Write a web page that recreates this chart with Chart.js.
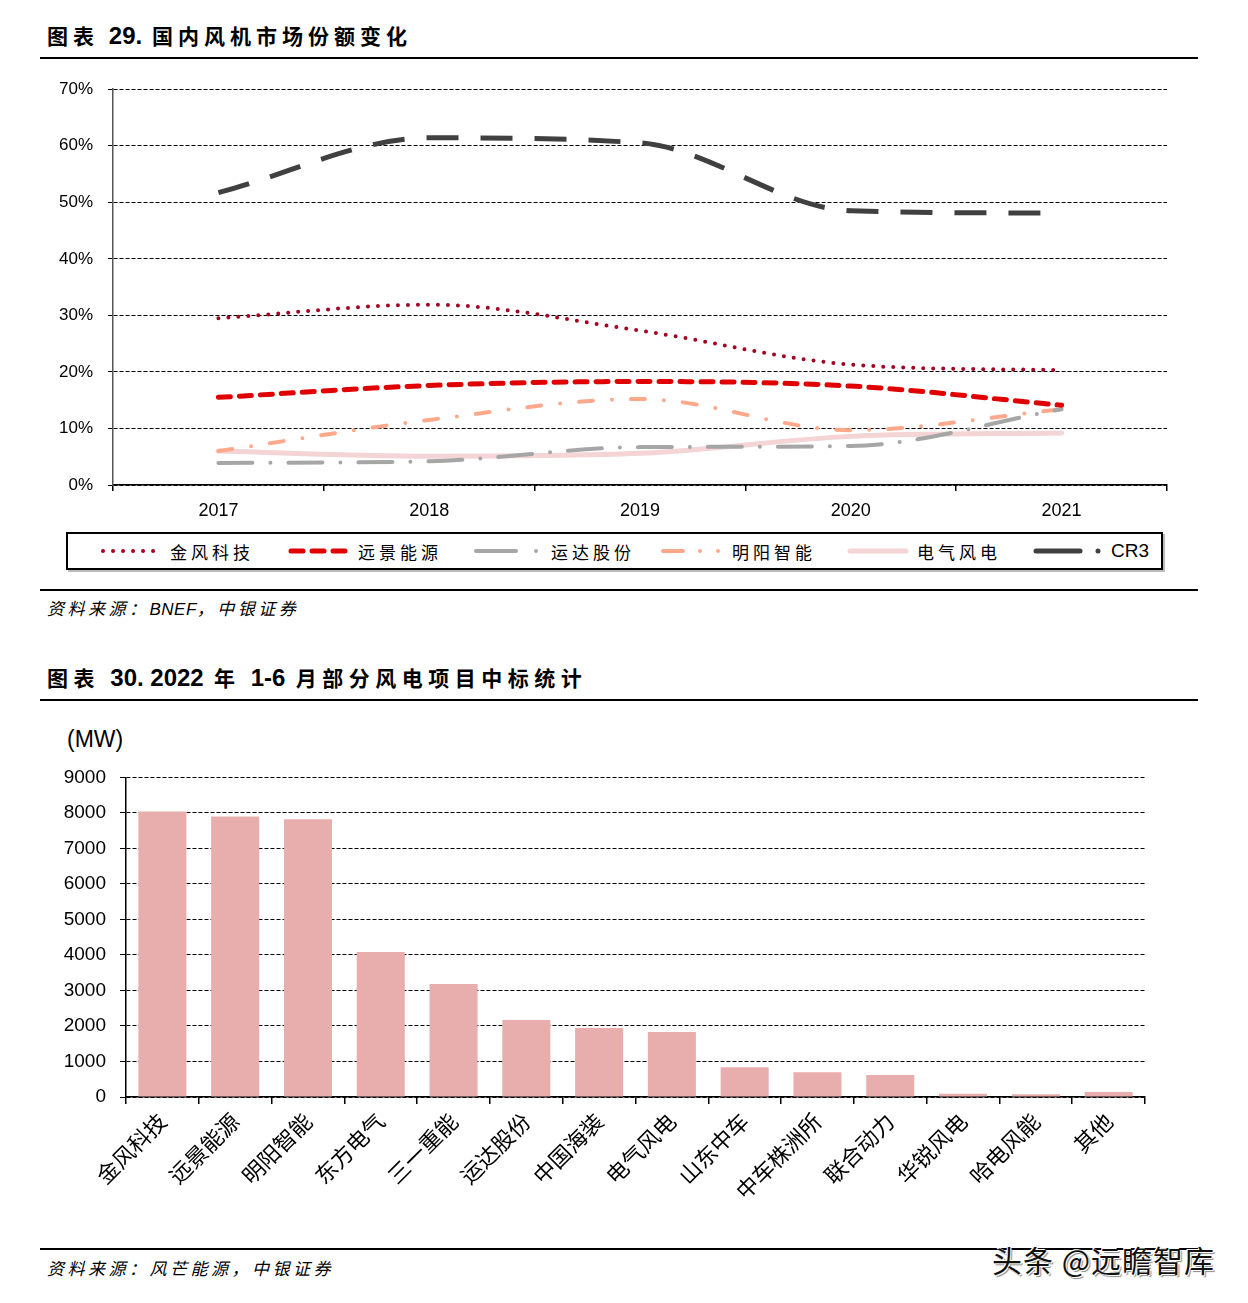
<!DOCTYPE html>
<html>
<head>
<meta charset="utf-8">
<script src="https://cdn.jsdelivr.net/npm/chart.js@4"></script>
<style>
  body { margin: 0; background: #fff; width: 1248px; height: 1303px; position: relative; font-family: "Liberation Sans", Arial, sans-serif; }
  .abs { position: absolute; }
  .title { left: 47px; font-family: "Noto Sans CJK SC", sans-serif; font-weight: bold; font-size: 21px; letter-spacing: 5px; line-height: 26px; color: #000; white-space: nowrap; }
  .title b { font-family: "Liberation Sans", Arial, sans-serif; font-size: 24px; letter-spacing: 0; }
  .rule { left: 40px; width: 1158px; height: 2px; background: #000; }
  .src { left: 47px; font-family: "Noto Sans CJK SC", sans-serif; font-style: italic; font-size: 17px; line-height: 22px; letter-spacing: 3.5px; }
  #legend { left: 66px; top: 532px; width: 1093px; height: 34px; border: 2px solid #000; box-shadow: 2px 2px 0 #bbb; }
  .li { position: absolute; top: 0; height: 34px; display: flex; align-items: center; font-family: "Noto Sans CJK SC", sans-serif; font-size: 17px; letter-spacing: 4px; }
  .li svg { margin-right: 8px; }
</style>
</head>
<body>
<div class="abs title" style="top:22px">图表 <b>29.</b> 国内风机市场份额变化</div>
<div class="abs rule" style="top:57px"></div>
<canvas id="c1" class="abs" style="left:40px;top:64px" width="1160" height="456"></canvas>
<div id="legend" class="abs"></div>
<div class="abs rule" style="top:589px"></div>
<div class="abs src" style="top:597px">资料来源：<i style="font-family:'Liberation Sans',Arial;letter-spacing:0.5px">BNEF</i>，中银证券</div>

<div class="abs title" style="top:664px;letter-spacing:5.5px">图表 <b>30. 2022</b> 年 <b>1-6</b> 月部分风电项目中标统计</div>
<div class="abs rule" style="top:699px"></div>
<div class="abs" style="left:67px;top:726px;font-size:23px;">(MW)</div>
<canvas id="c2" class="abs" style="left:40px;top:752px" width="1160" height="468"></canvas>
<div class="abs rule" style="top:1248px"></div>
<div class="abs src" style="top:1257px">资料来源：风芒能源，中银证券</div>
<div class="abs" style="left:992px;top:1237px;font-family:'Noto Sans CJK SC',sans-serif;font-size:30px;letter-spacing:1px;color:#111;text-shadow:1px 1px 0 #fff,-1px -1px 0 #fff,2px 2px 1px #888;white-space:nowrap;">头条 @远瞻智库</div>

<script>
// ---- 图表29 数据 ----
const years = ['2017', '2018', '2019', '2020', '2021'];
const goldwind = [29.5, 31.9, 27.3, 21.3, 20.3];
const envision = [15.5, 17.6, 18.3, 17.5, 14.1];
const windey = [3.9, 4.2, 6.7, 6.9, 13.4];
const mingyang = [6.0, 11.5, 15.2, 9.7, 13.4];
const shanghaiElec = [6.0, 5.1, 5.6, 8.6, 9.2];
const cr3 = [51.7, 61.4, 60.5, 48.5, 48.1];
const pctTicks = [0, 10, 20, 30, 40, 50, 60, 70];

// ---- 图表30 数据 ----
const companies = ['金风科技', '远景能源', '明阳智能', '东方电气', '三一重能', '运达股份', '中国海装',
  '电气风电', '山东中车', '中车株洲所', '联合动力', '华锐风电', '哈电风能', '其他'];
const bidMW = [8040, 7900, 7820, 4080, 3180, 2170, 1940, 1830, 840, 700, 620, 90, 80, 140];

const series = [
  { label: '金风科技', data: goldwind, color: '#A50021', width: 4, dash: [0, 10], cap: 'round', legDash: [0.01, 10], w: 62 },
  { label: '远景能源', data: envision, color: '#E00000', width: 5, dash: [12, 9], cap: 'round', legDash: [12, 9], w: 62 },
  { label: '运达股份', data: windey, color: '#A6A6A6', width: 4, dash: [34, 18, 0, 18], cap: 'round', legDash: [40, 20, 0.01, 100], w: 70 },
  { label: '明阳智能', data: mingyang, color: '#FFA98C', width: 4, dash: [14, 19, 0, 19], cap: 'round', legDash: [20, 17, 0.01, 18, 0.01, 100], w: 64 },
  { label: '电气风电', data: shanghaiElec, color: '#F4D4D4', width: 5, dash: [], cap: 'round', legDash: [], w: 62 },
  { label: 'CR3', data: cr3, color: '#404040', width: 5, dash: [32, 22], cap: 'butt', legDash: [44, 18, 0.01, 100], w: 70 }
];

new Chart(document.getElementById('c1'), {
  type: 'line',
  data: {
    labels: years,
    datasets: series.map(s => ({
      label: s.label,
      data: s.data,
      borderColor: s.color,
      borderWidth: s.width,
      borderDash: s.dash,
      borderCapStyle: s.cap,
      cubicInterpolationMode: 'monotone',
      pointRadius: 0,
      fill: false
    }))
  },
  options: {
    responsive: false,
    animation: false,
    devicePixelRatio: 1,
    layout: { padding: { top: 12, right: 33, left: 0, bottom: 0 } },
    plugins: { legend: { display: false }, tooltip: { enabled: false } },
    scales: {
      x: {
        offset: true,
        grid: { drawOnChartArea: false, offset: true, tickLength: 6, color: '#000', lineWidth: 1.5 },
        border: { color: '#000', width: 1.5 },
        ticks: { color: '#000', font: { family: 'Liberation Sans', size: 18 }, padding: 9 },
        afterFit: s => { s.height = 35; }
      },
      y: {
        min: 0, max: 70,
        afterBuildTicks: s => { s.ticks = pctTicks.map(v => ({ value: v })); },
        grid: { color: '#000', lineWidth: 1, tickLength: 5 },
        border: { color: '#555', width: 1.5, dash: [4, 2] },
        ticks: { color: '#000', font: { family: 'Liberation Sans', size: 17 }, padding: 15, callback: v => v + '%' },
        afterFit: s => { s.width = 73; }
      }
    }
  }
});

// 图例
const legend = document.getElementById('legend');
const legendPos = [32, 220, 405, 592, 779, 965];
series.forEach((s, i) => {
  const d = document.createElement('div');
  d.className = 'li';
  d.style.left = legendPos[i] + 'px';
  const w = s.w;
  d.innerHTML = `<svg width="${w}" height="10"><line x1="3" y1="5" x2="${w - 3}" y2="5" stroke="${s.color}" stroke-width="${s.width}" stroke-linecap="round" stroke-dasharray="${s.legDash.length ? s.legDash.join(' ') : 'none'}"/></svg>` +
    `<span style="${s.label === 'CR3' ? "font-family:'Liberation Sans';font-size:19px;letter-spacing:0" : ''}">${s.label}</span>`;
  legend.appendChild(d);
});

new Chart(document.getElementById('c2'), {
  type: 'bar',
  data: {
    labels: companies,
    datasets: [{ data: bidMW, backgroundColor: '#E8AEAD', barPercentage: 0.66, categoryPercentage: 1 }]
  },
  options: {
    responsive: false,
    animation: false,
    devicePixelRatio: 1,
    layout: { padding: { top: 9, right: 55, left: 0, bottom: 0 } },
    plugins: { legend: { display: false }, tooltip: { enabled: false } },
    scales: {
      x: {
        grid: { drawOnChartArea: false, tickLength: 7, color: '#000', lineWidth: 1.5 },
        border: { color: '#000', width: 1.5 },
        ticks: { color: '#000', font: { family: 'Noto Sans CJK SC', size: 22 }, minRotation: 45, maxRotation: 45, padding: 4 },
        afterFit: s => { s.height = 123; }
      },
      y: {
        min: 0, max: 9000,
        ticks: { stepSize: 1000, color: '#000', font: { family: 'Liberation Sans', size: 19 }, padding: 14, callback: v => String(v) },
        grid: { color: '#000', lineWidth: 1, tickLength: 6 },
        border: { color: '#000', width: 1.5, dash: [4, 2] },
        afterFit: s => { s.width = 86; }
      }
    }
  }
});
</script>
</body>
</html>
